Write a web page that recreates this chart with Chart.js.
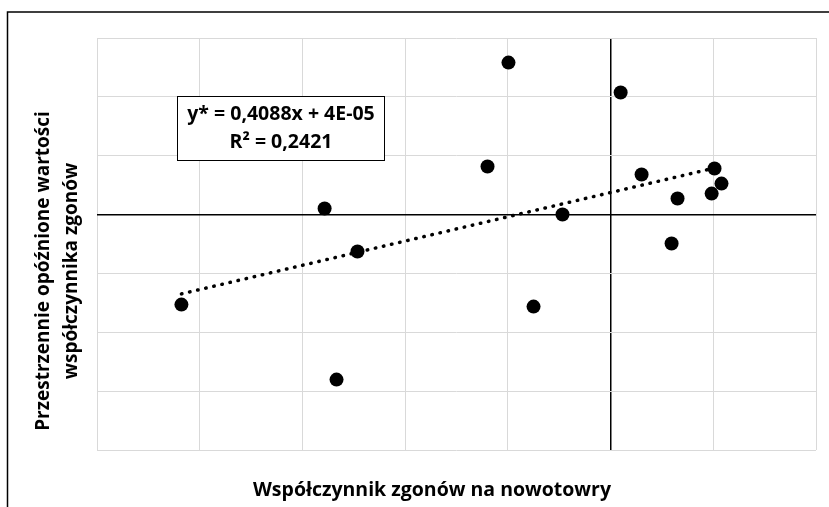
<!DOCTYPE html>
<html>
<head>
<meta charset="utf-8">
<script src="https://cdn.jsdelivr.net/npm/chart.js@4"></script>
<style>
    html, body { margin: 0; padding: 0; background: #fff; }
    #wrap { width: 829px; height: 507px; position: relative; }
</style>
</head>
<body>
<div id="wrap"><canvas id="moranChart"></canvas></div>
<script>
// values
const xValues = [-2.089, -1.392, -1.334, -1.232, -0.599, -0.497, -0.375, -0.234,
    0.049, 0.151, 0.297, 0.326, 0.492, 0.506, 0.540];
const yValues = [-0.765, 0.051, -1.402, -0.314, 0.408, 1.291, -0.782, 0.000,
    1.037, 0.340, -0.246, 0.136, 0.178, 0.391, 0.263];

const xRange = [-2.5, 1.0];
const yRange = [-2.0, 1.5];
const gridStep = 0.5;

const xTitle = "Współczynnik zgonów na nowotowry";
const yTitle = ["Przestrzennie opóźnione wartości", "współczynnika zgonów"];
const equationLines = ["y* = 0,4088x + 4E-05", "R² = 0,2421"];

const points = xValues.map((x, i) => ({ x: x, y: yValues[i] }));

// least squares trend line through the same points
function trendLine(xs, ys) {
    const n = xs.length;
    const mx = xs.reduce((a, b) => a + b, 0) / n;
    const my = ys.reduce((a, b) => a + b, 0) / n;
    let sxy = 0, sxx = 0;
    for (let i = 0; i < n; i++) {
        sxy += (xs[i] - mx) * (ys[i] - my);
        sxx += (xs[i] - mx) * (xs[i] - mx);
    }
    const b = sxy / sxx;
    const a = my - b * mx;
    const x0 = Math.min(...xs);
    const x1 = Math.max(...xs);
    return [{ x: x0, y: a + b * x0 }, { x: x1, y: a + b * x1 }];
}

const FONT = "'Open Sans', 'DejaVu Sans', sans-serif";

const isZero = c => c.tick && Math.abs(c.tick.value) < 1e-9;

const decorations = {
    id: "decorations",
    beforeDraw(chart) {
        const ctx = chart.ctx;
        ctx.save();
        ctx.strokeStyle = "#000";
        ctx.lineWidth = 1.5;
        ctx.beginPath();
        ctx.moveTo(7.5, 507);
        ctx.lineTo(7.5, 12);
        ctx.lineTo(829, 12);
        ctx.stroke();
        ctx.restore();
    },
    afterDatasetsDraw(chart) {
        const ctx = chart.ctx;
        ctx.save();

        // equation box
        ctx.fillStyle = "#fff";
        ctx.fillRect(177, 96, 207, 64);
        ctx.strokeStyle = "#000";
        ctx.lineWidth = 1;
        ctx.strokeRect(177.5, 96.5, 207, 64);
        ctx.fillStyle = "#000";
        ctx.font = "bold 19.5px " + FONT;
        ctx.textAlign = "center";
        ctx.textBaseline = "middle";
        ctx.fillText(equationLines[0], 281, 114);
        ctx.fillText(equationLines[1], 281, 142);

        // axis titles
        ctx.font = "bold 19.5px " + FONT;
        ctx.fillText(xTitle, 432, 490);

        ctx.font = "bold 19px " + FONT;
        ctx.translate(0, 271);
        ctx.rotate(-Math.PI / 2);
        ctx.fillText(yTitle[0], 0, 44);
        ctx.fillText(yTitle[1], 0, 72);
        ctx.restore();
    }
};

new Chart(document.getElementById("moranChart"), {
    type: "scatter",
    data: {
        datasets: [{
            data: points,
            backgroundColor: "#000",
            borderColor: "#000",
            borderWidth: 0,
            pointRadius: 7,
            pointHoverRadius: 7
        }, {
            type: "line",
            data: trendLine(xValues, yValues),
            borderColor: "#000",
            borderWidth: 3.5,
            borderDash: [0.5, 7.8],
            borderCapStyle: "round",
            pointRadius: 0,
            fill: false
        }]
    },
    options: {
        responsive: true,
        maintainAspectRatio: false,
        animation: false,
        layout: {
            padding: { left: 0, top: 38, right: 13, bottom: 0 }
        },
        plugins: {
            legend: { display: false },
            tooltip: { enabled: false }
        },
        scales: {
            x: {
                type: "linear",
                min: xRange[0],
                max: xRange[1],
                ticks: { display: false, stepSize: gridStep },
                border: { display: false },
                grid: {
                    drawTicks: false,
                    color: c => isZero(c) ? "#000" : "#d9d9d9",
                    lineWidth: c => isZero(c) ? 1.5 : 1
                },
                afterFit: s => { s.height = 57; }
            },
            y: {
                type: "linear",
                min: yRange[0],
                max: yRange[1],
                ticks: { display: false, stepSize: gridStep },
                border: { display: false },
                grid: {
                    drawTicks: false,
                    color: c => isZero(c) ? "#000" : "#d9d9d9",
                    lineWidth: c => isZero(c) ? 1.5 : 1
                },
                afterFit: s => { s.width = 97; }
            }
        }
    },
    plugins: [decorations]
});
</script>
</body>
</html>
